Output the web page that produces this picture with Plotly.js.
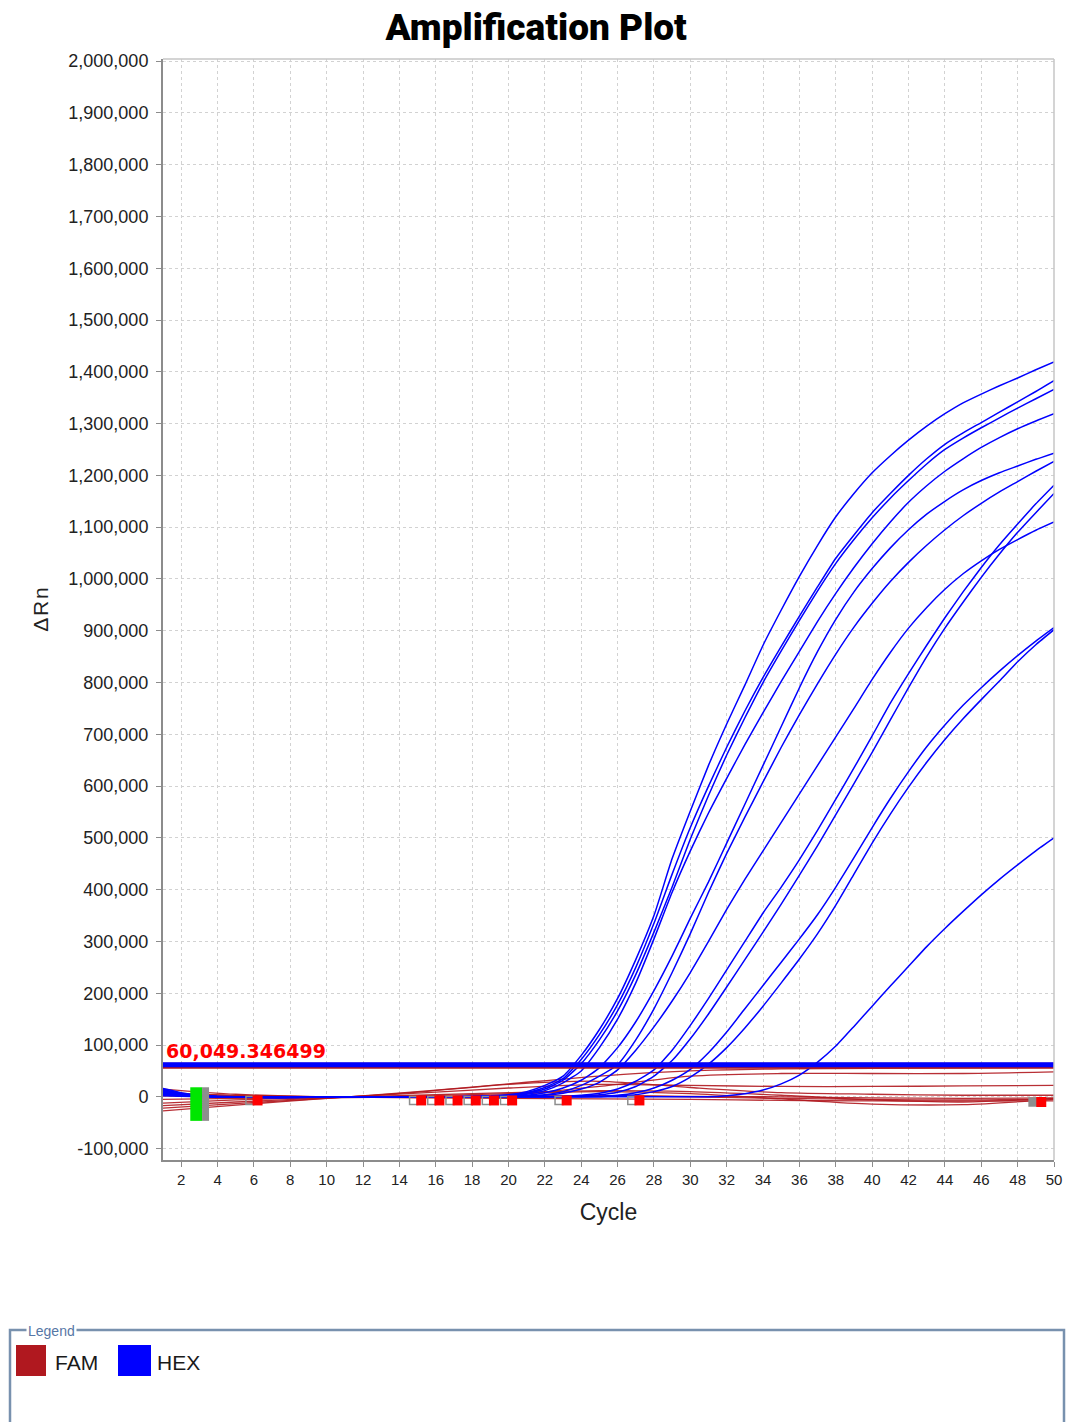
<!DOCTYPE html>
<html><head><meta charset="utf-8">
<script src="https://cdn.plot.ly/plotly-3.0.1.min.js"></script>
<style>html,body{margin:0;padding:0;background:#fff;}#chart{width:1068px;height:1422px;}</style>
</head><body><div id="chart"></div>
<script>
// ---------- DATA (values in thousands of ΔRn) ----------
const cycles = [1,2,3,4,5,6,7,8,9,10,11,12,13,14,15,16,17,18,19,20,21,22,23,24,25,26,27,28,29,30,31,32,33,34,35,36,37,38,39,40,41,42,43,44,45,46,47,48,49,50];
const hexA = [14,6,2,0,-1,-1,-1,-1,-1,-1,-1,-1,0,0,0,0,0,1,2,4,10,22,40,80,130,190,265,350,460,552,640,720,795,872,940,1005,1065,1120,1165,1205,1238,1268,1295,1319,1340,1357,1373,1388,1404,1419];
const hexB = [10,5,2,0,-1,-1,-2,-1,-1,-1,0,0,0,0,0,0,0,1,1,3,8,18,35,72,120,178,250,335,430,520,600,675,745,810,870,928,985,1040,1085,1128,1165,1200,1232,1260,1282,1302,1322,1342,1362,1383];
const hexC = [16,8,3,1,0,-1,-1,-1,-1,-1,-1,0,0,0,0,0,0,0,1,2,7,15,32,64,110,166,236,318,405,498,582,660,732,800,861,920,977,1030,1076,1118,1156,1190,1222,1250,1272,1292,1311,1330,1348,1366];
const hexD = [6,3,1,0,0,-1,-1,-1,-1,-1,-1,-1,0,0,0,0,0,0,1,2,5,12,27,50,95,150,220,305,395,475,548,615,680,742,802,860,918,972,1022,1068,1110,1148,1180,1208,1232,1254,1273,1290,1305,1319];
const hexE = [12,6,2,0,-1,-1,-1,-2,-1,-1,-1,-1,0,0,0,0,0,0,0,1,3,8,17,32,56,95,145,205,272,345,415,490,565,640,715,790,860,922,975,1020,1060,1095,1125,1150,1172,1190,1205,1218,1231,1243];
const hexF = [4,2,1,0,0,-1,-1,-1,-1,-1,-1,-1,-1,0,0,0,0,0,0,1,2,4,10,22,40,62,110,170,240,315,395,470,540,608,675,738,798,855,907,953,995,1032,1065,1095,1122,1146,1168,1188,1208,1227];
const hexG = [9,4,1,0,-1,-1,-1,-1,-1,-1,-1,0,0,0,0,0,0,0,0,0,1,3,7,15,28,52,90,135,185,240,300,362,420,475,530,585,640,695,750,806,858,905,945,980,1010,1035,1057,1076,1094,1110];
const hexH = [2,1,0,0,-1,-1,-1,-1,-1,-1,-1,-1,0,0,0,0,0,0,0,0,0,0,1,3,7,15,30,52,90,138,190,245,300,355,405,458,515,575,635,697,760,817,872,925,975,1022,1066,1106,1145,1181];
const hexI = [13,6,2,0,-1,-1,-2,-1,-1,-1,-1,-1,-1,0,0,0,0,0,0,0,0,0,0,2,4,9,20,40,70,112,160,212,265,318,372,428,485,545,605,665,728,790,850,905,955,1003,1048,1090,1128,1165];
const hexJ = [7,3,1,0,0,-1,-1,-1,-1,-1,-1,-1,0,0,0,0,0,0,0,0,0,0,0,0,1,3,8,17,32,53,85,125,170,215,260,305,352,405,462,520,576,628,676,718,756,790,822,852,880,906];
const hexK = [11,5,2,0,-1,-1,-1,-1,-1,-1,-1,-1,0,0,0,0,0,0,0,0,0,0,0,0,0,2,4,10,20,38,63,95,133,175,220,266,315,370,430,490,546,598,646,690,730,767,803,840,873,902];
const hexL = [5,2,1,0,0,-1,-1,-1,-1,-1,-1,-1,-1,0,0,0,0,0,0,0,0,0,0,0,0,0,0,0,0,0,0,2,6,13,25,42,67,98,136,175,214,252,290,325,358,390,420,448,475,500];

const famCycles = [1,5,10,15,20,25,30,35,40,45,50];
const fam1 = [-27,-16,-3,10,25,40,50,54,55,56,57];
const fam2 = [-17,-10,-2,7,17,24,22,20,20,21,22];
const fam3 = [15,5,0,-1,0,2,0,-3,-5,-6,-4];
const fam4 = [8,3,0,2,6,10,6,-4,-14,-15,-5];
const fam5 = [-12,-6,-1,3,8,12,10,3,-6,-10,-3];
const fam6 = [2,0,-1,0,1,2,1,0,-2,-3,-2];
const fam7 = [-5,-3,-2,0,4,20,40,45,45,45,48];
const fam8 = [5,2,0,-2,-3,-4,-5,-7,-8,-8,-8];
const fam9 = [-22,-13,-3,9,24,30,18,8,5,3,3];

const thresholdFAM = 60049.346499;
const thresholdHEX = 62000;
const thresholdLabel = "60,049.346499";

// baseline markers (cycle positions, values in thousands)
const baselineEndCycles = [6.2,15.2,16.2,17.2,18.2,19.2,20.2,23.2,27.2,49.3];
const baselineEndValues = [-7,-7,-7,-7,-7,-7,-7,-7,-7,-10];
const baselineStartCycles = [5.78,14.78,15.78,16.78,17.78,18.78,19.78,22.78,26.78,48.85];
const baselineStartValues = [-7,-7,-7,-7,-7,-7,-7,-7,-7,-10];
const startSelCycle = [2.83];
const startSelValue = [-14];
const startSelGrayCycle = [3.34];

const seriesNames = ["FAM","HEX"];
const seriesColors = ["#b0181f","#0000ff"];

const xTickVals = [2,4,6,8,10,12,14,16,18,20,22,24,26,28,30,32,34,36,38,40,42,44,46,48,50];
const xTickLabels = ["2","4","6","8","10","12","14","16","18","20","22","24","26","28","30","32","34","36","38","40","42","44","46","48","50"];
const yTickVals = [-100000,0,100000,200000,300000,400000,500000,600000,700000,800000,900000,1000000,1100000,1200000,1300000,1400000,1500000,1600000,1700000,1800000,1900000,2000000];
const yTickLabels = ["-100,000","0","100,000","200,000","300,000","400,000","500,000","600,000","700,000","800,000","900,000","1,000,000","1,100,000","1,200,000","1,300,000","1,400,000","1,500,000","1,600,000","1,700,000","1,800,000","1,900,000","2,000,000"];

// ---------- BUILD ----------
const K = v => v.map(x => x*1000);
const famSeries = [fam1,fam2,fam3,fam4,fam5,fam6,fam7,fam8,fam9];
const hexSeries = [hexA,hexB,hexC,hexD,hexE,hexF,hexG,hexH,hexI,hexJ,hexK,hexL];

const traces = [];
famSeries.forEach(s => traces.push({x: famCycles, y: K(s), type:'scatter', mode:'lines',
  line:{color: seriesColors[0], width:1.3, shape:'spline', smoothing:0.8}, opacity:0.9, hoverinfo:'skip'}));
hexSeries.forEach(s => traces.push({x: cycles, y: K(s), type:'scatter', mode:'lines',
  line:{color: seriesColors[1], width:1.5, shape:'spline', smoothing:0.5}, hoverinfo:'skip'}));
traces.push({x:[cycles[0], cycles[cycles.length-1]], y:[thresholdFAM, thresholdFAM], type:'scatter', mode:'lines',
  line:{color:'#b0181f', width:6}, hoverinfo:'skip'});
traces.push({x:[cycles[0], cycles[cycles.length-1]], y:[thresholdHEX, thresholdHEX], type:'scatter', mode:'lines',
  line:{color:'#0000ff', width:5}, hoverinfo:'skip'});
// baseline markers
traces.push({x: startSelCycle, y: K(startSelValue), type:'scatter', mode:'markers',
  marker:{symbol:'line-ns', size:24, line:{color:'#00e600', width:12}}, hoverinfo:'skip'});
traces.push({x: startSelGrayCycle, y: K(startSelValue), type:'scatter', mode:'markers',
  marker:{symbol:'line-ns', size:24, line:{color:'#8e8e8e', width:7}}, hoverinfo:'skip'});
traces.push({x: baselineStartCycles, y: K(baselineStartValues), type:'scatter', mode:'markers',
  marker:{symbol: baselineStartCycles.map((c,i)=> i===baselineStartCycles.length-1 ? 'square':'square-open'),
    size:8, color:'#8e8e8e', line:{color:'#8e8e8e', width:1.5}}, hoverinfo:'skip'});
traces.push({x: baselineEndCycles, y: K(baselineEndValues), type:'scatter', mode:'markers',
  marker:{symbol:'square', size:10, color:'#ff0000'}, hoverinfo:'skip'});

// ---------- LAYOUT ----------
const ML=163, MT=59, PW=891, PH=1101;
const px = x => (x-ML)/PW;
const py = y => (MT+PH-y)/PH;

const shapes = [
  {type:'line', xref:'paper', yref:'paper', x0:0, x1:1, y0:1, y1:1, line:{color:'#c6c6c6', width:1.5}},
  {type:'line', xref:'paper', yref:'paper', x0:1, x1:1, y0:0, y1:1, line:{color:'#c6c6c6', width:1.5}},
  // legend group box
  {type:'rect', xref:'paper', yref:'paper', x0:px(10), x1:px(1064), y0:py(1330), y1:py(1450), line:{color:'#7891ae', width:2.5}},
  {type:'rect', xref:'paper', yref:'paper', x0:px(16), x1:px(46), y0:py(1376), y1:py(1345), fillcolor:seriesColors[0], line:{width:0}},
  {type:'rect', xref:'paper', yref:'paper', x0:px(118), x1:px(151), y0:py(1376), y1:py(1345), fillcolor:seriesColors[1], line:{width:0}}
];

const annotations = [
  {xref:'x', yref:'y', x:cycles[0], y:thresholdHEX, xanchor:'left', yanchor:'bottom', yshift:1, xshift:1,
   text:'<b>'+thresholdLabel+'</b>', showarrow:false, font:{family:'DejaVu Sans', size:19, color:'#ff0000'}},
  {xref:'paper', yref:'paper', x:px(26), y:py(1331), xanchor:'left', yanchor:'middle', text:'Legend', showarrow:false,
   bgcolor:'#ffffff', borderpad:1, font:{family:'Liberation Sans', size:14, color:'#5677a6'}},
  {xref:'paper', yref:'paper', x:px(53), y:py(1362), xanchor:'left', yanchor:'middle', text:seriesNames[0], showarrow:false,
   font:{family:'Liberation Sans', size:21, color:'#1a1a1a'}},
  {xref:'paper', yref:'paper', x:px(155), y:py(1362), xanchor:'left', yanchor:'middle', text:seriesNames[1], showarrow:false,
   font:{family:'Liberation Sans', size:21, color:'#1a1a1a'}}
];

const layout = {
  width:1068, height:1422,
  margin:{l:ML, r:1068-ML-PW, t:MT, b:1422-MT-PH, pad:0},
  paper_bgcolor:'#ffffff', plot_bgcolor:'#ffffff',
  showlegend:false,
  title:{text:'Amplification Plot', xref:'container', x:0.502, xanchor:'center', yref:'container', y:1-27/1422, yanchor:'middle',
    font:{family:'Roboto, Liberation Sans, Arial', size:37, color:'#000000', weight:900}},
  xaxis:{range:[1,50], tickvals:xTickVals, ticktext:xTickLabels, showgrid:true, gridcolor:'#d2d2d2', griddash:'dot', gridwidth:1,
    zeroline:false, showline:true, linecolor:'#8c8c8c', linewidth:2, ticks:'outside', ticklen:5, tickcolor:'#8c8c8c',
    tickfont:{family:'Liberation Sans', size:15, color:'#222'}, automargin:false,
    title:{text:'Cycle', font:{family:'Liberation Sans', size:23, color:'#222'}, standoff:17}},
  yaxis:{range:[-122000, 2004000], tickvals:yTickVals, ticktext:yTickLabels, showgrid:true, gridcolor:'#d2d2d2', griddash:'dot', gridwidth:1,
    zeroline:false, showline:true, linecolor:'#8c8c8c', linewidth:2, ticks:'outside', ticklen:5, tickcolor:'#8c8c8c',
    ticklabelstandoff:4,
    tickfont:{family:'Liberation Sans', size:18, color:'#222'}, automargin:false,
    title:{text:'Δ\u200aR\u200an', font:{family:'Liberation Sans', size:21, color:'#222'}, standoff:14}},
  shapes:shapes, annotations:annotations
};

Plotly.newPlot('chart', traces, layout, {displayModeBar:false, staticPlot:true});
</script>
</body></html>
